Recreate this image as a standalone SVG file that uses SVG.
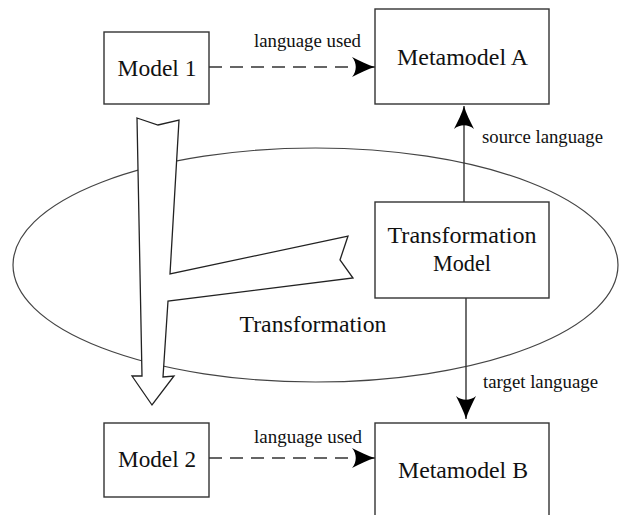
<svg xmlns="http://www.w3.org/2000/svg" width="621" height="515" viewBox="0 0 621 515">
  <style>
    .box { fill: #fff; stroke: #333; stroke-width: 1.4; }
    .big { font-family: "Liberation Serif", "Times New Roman", serif; font-size: 24px; fill: #111; text-anchor: middle; }
    .small { font-family: "Liberation Serif", "Times New Roman", serif; font-size: 19px; fill: #111; }
    .dash { fill: none; stroke: #333; stroke-width: 1.4; stroke-dasharray: 13 8; }
    .solid { fill: none; stroke: #333; stroke-width: 1.4; }
  </style>
  <defs>
    <marker id="stealth" viewBox="-24 -12 26 24" refX="0" refY="0" markerWidth="26" markerHeight="24" markerUnits="userSpaceOnUse" orient="auto">
      <path d="M0,0 C-7,-2 -15,-6 -23,-10 C-18,-4 -18,4 -23,10 C-15,6 -7,2 0,0 Z" fill="#000"/>
    </marker>
  </defs>
  <rect width="621" height="515" fill="#fff"/>

  <g id="transformation">
    <ellipse cx="315.5" cy="265" rx="302.5" ry="117" fill="none" stroke="#444" stroke-width="1.2"/>
    <text class="big" x="313" y="332" textLength="147" lengthAdjust="spacingAndGlyphs">Transformation</text>
  </g>

  <g id="connectors">
    <polygon points="137,118 158,125 179,120 170,274 348,236 340,260 353,278 168,301 163,377 174,376 152,405 132,376 142,376" fill="#fff" stroke="#222" stroke-width="1.3" stroke-linejoin="miter"/>
    <line class="dash" x1="209" y1="67" x2="362" y2="67"/>
    <path d="M362,67 L375,67" class="solid" marker-end="url(#stealth)"/>
    <text class="small" x="254" y="47" textLength="107" lengthAdjust="spacingAndGlyphs">language used</text>
    <line class="dash" x1="209" y1="458" x2="362" y2="458"/>
    <path d="M362,458 L375,458" class="solid" marker-end="url(#stealth)"/>
    <text class="small" x="254" y="443" textLength="108" lengthAdjust="spacingAndGlyphs">language used</text>
    <line class="solid" x1="464" y1="202" x2="464" y2="106" marker-end="url(#stealth)"/>
    <text class="small" x="482" y="143" textLength="121" lengthAdjust="spacingAndGlyphs">source language</text>
    <line class="solid" x1="466" y1="298" x2="466" y2="419" marker-end="url(#stealth)"/>
    <text class="small" x="483" y="388" textLength="115" lengthAdjust="spacingAndGlyphs">target language</text>
  </g>

  <g id="model1">
    <rect class="box" x="104" y="32" width="105" height="72"/>
    <text class="big" x="157" y="76" textLength="79" lengthAdjust="spacingAndGlyphs">Model 1</text>
  </g>
  <g id="metamodelA">
    <rect class="box" x="375" y="9" width="174" height="95"/>
    <text class="big" x="462.5" y="65" textLength="131" lengthAdjust="spacingAndGlyphs">Metamodel A</text>
  </g>
  <g id="transformationModel">
    <rect class="box" x="375" y="202" width="174" height="96"/>
    <text class="big" x="462" y="243" textLength="149" lengthAdjust="spacingAndGlyphs">Transformation</text>
    <text class="big" x="462" y="271" textLength="58" lengthAdjust="spacingAndGlyphs">Model</text>
  </g>
  <g id="model2">
    <rect class="box" x="104" y="423" width="105" height="74"/>
    <text class="big" x="157" y="467" textLength="78" lengthAdjust="spacingAndGlyphs">Model 2</text>
  </g>
  <g id="metamodelB">
    <rect class="box" x="375" y="423" width="174" height="100"/>
    <text class="big" x="463" y="478" textLength="130" lengthAdjust="spacingAndGlyphs">Metamodel B</text>
  </g>
</svg>
